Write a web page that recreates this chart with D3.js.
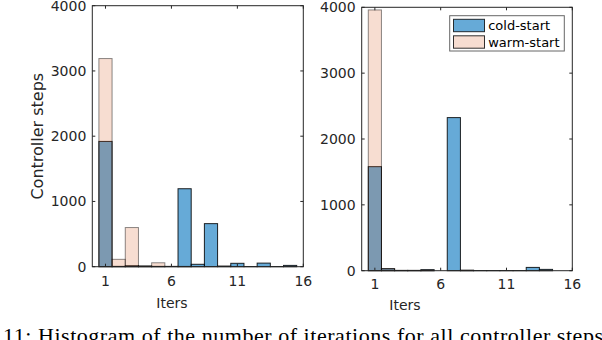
<!DOCTYPE html>
<html>
<head>
<meta charset="utf-8">
<script src="https://cdn.jsdelivr.net/npm/d3@7"></script>
<style>
  body { margin: 0; background: #fff; }
  svg { display: block; }
</style>
</head>
<body>
<svg id="chart" width="602" height="340"></svg>
<script>
'use strict';
// histogram bins (iteration count)
const iters = [1, 2, 3, 4, 5, 6, 7, 8, 9, 10, 11, 12, 13, 14, 15];
// left panel
const coldLeft = [1920, 5, 15, 10, 5, 5, 1195, 37, 660, 10, 52, 2, 55, 2, 20];
const warmLeft = [3190, 113, 600, 10, 60, 0, 5, 0, 0, 0, 0, 0, 0, 0, 0];
// right panel
const coldRight = [1580, 30, 5, 5, 15, 0, 2325, 5, 2, 2, 2, 2, 50, 20, 0];
const warmRight = [3960, 30, 3, 3, 10, 0, 0, 10, 0, 0, 0, 0, 0, 0, 0];
const xTicks = [1, 6, 11, 16];
const yTicks = [0, 1000, 2000, 3000, 4000];
const seriesNames = ["cold-start", "warm-start"];

(function () {
  const svg = d3.select("#chart");
  const font = "'DejaVu Sans', sans-serif";
  const ink = "#262626";

  function drawPanel(box, cold, warm, opts) {
    const x = d3.scaleLinear().domain([0, 16]).range([box.x0, box.x1]);
    const y = d3.scaleLinear().domain([0, 4000]).range([box.y1, box.y0]);
    const g = svg.append("g");

    // cold-start first, warm-start on top (semi transparent)
    g.selectAll("rect.cold").data(iters).join("rect")
      .attr("class", "cold")
      .attr("x", d => x(d - 0.5))
      .attr("width", d => x(d + 0.5) - x(d - 0.5))
      .attr("y", (d, i) => y(cold[i]))
      .attr("height", (d, i) => y(0) - y(cold[i]))
      .attr("fill", "#0072bd").attr("fill-opacity", 0.6)
      .attr("stroke", "#000").attr("stroke-width", 1).attr("stroke-opacity", 0.85);

    g.selectAll("rect.warm").data(iters).join("rect")
      .attr("class", "warm")
      .attr("x", d => x(d - 0.5))
      .attr("width", d => x(d + 0.5) - x(d - 0.5))
      .attr("y", (d, i) => y(warm[i]))
      .attr("height", (d, i) => y(0) - y(warm[i]))
      .attr("fill", "#d95319").attr("fill-opacity", 0.2)
      .attr("stroke", "#000").attr("stroke-width", 1).attr("stroke-opacity", 0.45);

    // box
    g.append("rect")
      .attr("x", box.x0).attr("y", box.y0)
      .attr("width", box.x1 - box.x0).attr("height", box.y1 - box.y0)
      .attr("fill", "none").attr("stroke", ink).attr("stroke-width", 1);

    // inward ticks on all sides
    const tl = 3;
    yTicks.forEach(t => {
      g.append("line").attr("x1", box.x0).attr("x2", box.x0 + tl)
        .attr("y1", y(t)).attr("y2", y(t)).attr("stroke", ink);
      g.append("line").attr("x1", box.x1).attr("x2", box.x1 - tl)
        .attr("y1", y(t)).attr("y2", y(t)).attr("stroke", ink);
      g.append("text").attr("x", box.x0 - 6).attr("y", y(t))
        .attr("dy", "0.36em").attr("text-anchor", "end")
        .attr("font-family", font).attr("font-size", 14).attr("fill", ink)
        .text(t);
    });
    xTicks.forEach(t => {
      g.append("line").attr("x1", x(t)).attr("x2", x(t))
        .attr("y1", box.y1).attr("y2", box.y1 - tl).attr("stroke", ink);
      g.append("line").attr("x1", x(t)).attr("x2", x(t))
        .attr("y1", box.y0).attr("y2", box.y0 + tl).attr("stroke", ink);
      g.append("text").attr("x", x(t)).attr("y", opts.tickBase)
        .attr("text-anchor", "middle")
        .attr("font-family", font).attr("font-size", 14).attr("fill", ink)
        .text(t);
    });

    g.append("text").attr("x", opts.xLabelX).attr("y", opts.xLabelY)
      .attr("text-anchor", "middle")
      .attr("font-family", font).attr("font-size", 14).attr("fill", ink)
      .text("Iters");

    if (opts.yLabel) {
      g.append("text")
        .attr("transform", `translate(43,${(box.y0 + box.y1) / 2}) rotate(-90)`)
        .attr("text-anchor", "middle")
        .attr("font-family", font).attr("font-size", 16).attr("fill", ink)
        .text(opts.yLabel);
    }

    if (opts.legend) {
      const lg = svg.append("g");
      const L = opts.legend;
      lg.append("rect").attr("x", L.x).attr("y", L.y).attr("width", L.w).attr("height", L.h)
        .attr("fill", "#fff").attr("stroke", ink).attr("stroke-opacity", 0.7);
      const fills = [["#0072bd", 0.6], ["#d95319", 0.2]];
      seriesNames.forEach((name, i) => {
        const yy = L.y + 3.6 + i * 16.5;
        lg.append("rect").attr("x", L.x + 3.8).attr("y", yy)
          .attr("width", 31).attr("height", 12.4)
          .attr("fill", fills[i][0]).attr("fill-opacity", fills[i][1])
          .attr("stroke", "#000").attr("stroke-opacity", 0.8);
        lg.append("text").attr("x", L.x + 38.5).attr("y", yy + 6.2)
          .attr("dy", "0.36em")
          .attr("font-family", font).attr("font-size", 13).attr("fill", "#000")
          .text(name);
      });
    }
  }

  drawPanel({x0: 92.3, x1: 303.3, y0: 5.7, y1: 266.7}, coldLeft, warmLeft,
    {tickBase: 286, xLabelX: 172, xLabelY: 308, yLabel: "Controller steps"});
  drawPanel({x0: 361.7, x1: 572.3, y0: 7.3, y1: 270.7}, coldRight, warmRight,
    {tickBase: 289, xLabelX: 405, xLabelY: 310,
     legend: {x: 449.7, y: 15.7, w: 114.6, h: 35.3}});

  // caption line from the paper, cut at the image border
  svg.append("text").attr("x", 3).attr("y", 343)
    .attr("font-family", "'Liberation Serif', 'Times New Roman', serif")
    .attr("font-size", 22).attr("fill", "#000")
    .attr("textLength", 600).attr("lengthAdjust", "spacing")
    .text("11: Histogram of the number of iterations for all controller steps");
})();
</script>
</body>
</html>
